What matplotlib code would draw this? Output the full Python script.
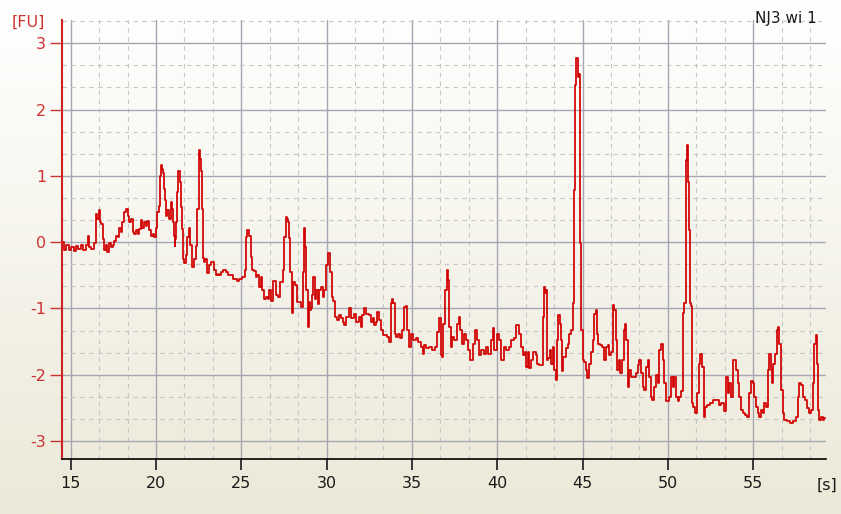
import numpy as np
import matplotlib.pyplot as plt
from matplotlib.ticker import MultipleLocator

plt.rcParams['axes.unicode_minus'] = False

# time [s] and signal [FU]
t_s = [
    14.49, 14.53, 14.67, 14.8, 14.95, 15.1, 15.25, 15.35, 15.5, 15.65, 15.8, 15.95,
    16.03, 16.12, 16.3, 16.45, 16.52, 16.6, 16.68, 16.76, 16.82, 16.92, 17.01, 17.1,
    17.2, 17.3, 17.4, 17.5, 17.6, 17.7, 17.79, 17.89, 17.98, 18.08, 18.18, 18.28,
    18.38, 18.48, 18.58, 18.68, 18.78, 18.87, 18.97, 19.06, 19.16, 19.25, 19.35, 19.45,
    19.55, 19.65, 19.75, 19.84, 19.94, 20.04, 20.12, 20.18, 20.24, 20.29, 20.36, 20.43,
    20.48, 20.53, 20.62, 20.72, 20.8, 20.92, 20.97, 21.01, 21.06, 21.11, 21.16, 21.21,
    21.28, 21.35, 21.42, 21.5, 21.55, 21.6, 21.7, 21.8, 21.89, 21.99, 22.05, 22.12,
    22.2, 22.3, 22.38, 22.46, 22.54, 22.6, 22.68, 22.72, 22.77, 22.85, 22.95, 23.07,
    23.15, 23.25, 23.36, 23.45, 23.56, 23.65, 23.75, 23.85, 24.04, 24.15, 24.3, 24.43,
    24.55, 24.7, 24.83, 24.95, 25.12, 25.26, 25.31, 25.41, 25.51, 25.61, 25.7, 25.8,
    25.9, 25.96, 26.1, 26.19, 26.29, 26.4, 26.49, 26.6, 26.68, 26.78, 26.94, 27.07,
    27.21, 27.37, 27.46, 27.56, 27.62, 27.7, 27.76, 27.84, 27.91, 27.99, 28.07, 28.19,
    28.3, 28.44, 28.54, 28.64, 28.73, 28.79, 28.85, 28.91, 28.99, 29.05, 29.12, 29.2,
    29.26, 29.36, 29.44, 29.52, 29.61, 29.71, 29.81, 29.91, 30.04, 30.14, 30.24, 30.34,
    30.43, 30.53, 30.69, 30.8, 30.88, 31.0, 31.08, 31.23, 31.37, 31.51, 31.66, 31.82,
    31.96, 32.05, 32.15, 32.25, 32.41, 32.54, 32.64, 32.74, 32.84, 32.93, 33.03, 33.13,
    33.23, 33.42, 33.62, 33.72, 33.78, 33.85, 33.95, 34.01, 34.11, 34.21, 34.34, 34.5,
    34.6, 34.69, 34.79, 34.89, 35.03, 35.14, 35.28, 35.44, 35.57, 35.67, 35.77, 35.9,
    36.06, 36.26, 36.39, 36.55, 36.65, 36.75, 36.8, 36.88, 37.0, 37.08, 37.17, 37.23,
    37.31, 37.43, 37.55, 37.68, 37.78, 37.88, 37.98, 38.11, 38.21, 38.35, 38.5, 38.64,
    38.76, 38.86, 38.99, 39.15, 39.29, 39.42, 39.54, 39.68, 39.77, 39.89, 40.03, 40.16,
    40.32, 40.46, 40.59, 40.75, 40.91, 41.04, 41.2, 41.3, 41.43, 41.57, 41.63, 41.73,
    41.83, 41.92, 42.02, 42.18, 42.31, 42.41, 42.51, 42.61, 42.7, 42.76, 42.84, 42.92,
    42.96, 43.04, 43.1, 43.19, 43.29, 43.39, 43.49, 43.54, 43.62, 43.68, 43.74, 43.82,
    43.94, 44.07, 44.17, 44.27, 44.37, 44.46, 44.52, 44.6, 44.68, 44.76, 44.81, 44.85,
    44.95, 45.05, 45.15, 45.24, 45.34, 45.44, 45.54, 45.64, 45.73, 45.81, 45.89, 45.97,
    46.08, 46.22, 46.32, 46.42, 46.51, 46.61, 46.71, 46.81, 46.91, 46.96, 47.06, 47.16,
    47.26, 47.36, 47.45, 47.53, 47.61, 47.69, 47.78, 47.92, 48.04, 48.18, 48.27, 48.37,
    48.47, 48.57, 48.66, 48.76, 48.86, 48.96, 49.05, 49.15, 49.25, 49.35, 49.45, 49.54,
    49.64, 49.74, 49.84, 49.99, 50.13, 50.23, 50.33, 50.42, 50.52, 50.62, 50.72, 50.81,
    50.91, 51.01, 51.07, 51.15, 51.2, 51.26, 51.3, 51.36, 51.42, 51.54, 51.65, 51.75,
    51.85, 51.95, 52.04, 52.14, 52.24, 52.38, 52.57, 52.77, 52.96, 53.06, 53.22, 53.35,
    53.49, 53.57, 53.65, 53.74, 53.84, 53.96, 54.04, 54.14, 54.23, 54.33, 54.47, 54.58,
    54.72, 54.82, 54.92, 55.01, 55.11, 55.21, 55.31, 55.41, 55.5, 55.6, 55.7, 55.8,
    55.89, 55.99, 56.09, 56.15, 56.23, 56.32, 56.42, 56.5, 56.58, 56.68, 56.77, 56.87,
    57.07, 57.26, 57.46, 57.55, 57.65, 57.75, 57.85, 57.95, 58.1, 58.24, 58.34, 58.43,
    58.53, 58.63, 58.71, 58.77, 58.84, 58.92, 59.02, 59.12, 59.22,
]
fu = [
    0.0, 0.0, -0.12, -0.05, -0.12, -0.08, -0.14, -0.06, -0.1, -0.04, -0.12, -0.05,
    0.1, -0.08, -0.1, -0.02, 0.42, 0.35, 0.48, 0.3, 0.28, 0.05, -0.12, -0.05,
    -0.15, -0.02, -0.08, -0.05, 0.02, 0.1, 0.08, 0.21, 0.15, 0.3, 0.45, 0.5,
    0.4, 0.3, 0.35, 0.16, 0.12, 0.18, 0.12, 0.2, 0.33, 0.22, 0.3, 0.25,
    0.32, 0.18, 0.1, 0.12, 0.08, 0.22, 0.45, 0.55, 1.0, 1.16, 1.1, 1.04,
    0.8, 0.63, 0.4, 0.48, 0.35, 0.6, 0.5, 0.3, 0.1, -0.06, 0.05, 0.3,
    0.75, 1.08, 0.9, 0.53, 0.2, -0.25, -0.32, -0.2, 0.08, 0.22, -0.05, -0.37,
    -0.37, -0.25, -0.06, 0.5, 1.39, 1.25, 1.08, 0.5, -0.24, -0.3, -0.25, -0.47,
    -0.35, -0.3, -0.3, -0.42, -0.5, -0.48, -0.5, -0.45, -0.42, -0.45, -0.5, -0.5,
    -0.56, -0.55, -0.59, -0.55, -0.53, -0.42, 0.08, 0.18, 0.1, -0.22, -0.42, -0.44,
    -0.53, -0.5, -0.67, -0.53, -0.72, -0.85, -0.82, -0.85, -0.72, -0.88, -0.59, -0.79,
    -0.83, -0.6, -0.42, 0.08, 0.38, 0.35, 0.3, 0.06, -0.45, -1.07, -0.6, -0.65,
    -0.9, -0.9, -0.98, -0.45, 0.21, -0.07, -0.72, -1.28, -0.9, -1.02, -1.0, -0.8,
    -0.53, -0.86, -0.72, -0.93, -0.72, -0.67, -0.83, -0.72, -0.35, -0.17, -0.45, -0.83,
    -0.88, -1.13, -1.18, -1.1, -1.15, -1.2, -1.25, -1.13, -1.0, -1.15, -1.08, -1.2,
    -1.13, -1.28, -1.1, -1.0, -1.08, -1.1, -1.2, -1.15, -1.25, -1.2, -1.05, -1.18,
    -1.33, -1.4, -1.43, -1.5, -0.92, -0.85, -0.92, -1.38, -1.43, -1.38, -1.45, -1.33,
    -0.98, -0.97, -1.33, -1.58, -1.38, -1.48, -1.45, -1.5, -1.58, -1.68, -1.55, -1.6,
    -1.58, -1.63, -1.58, -1.35, -1.15, -1.7, -1.73, -1.23, -0.72, -0.42, -0.57, -1.28,
    -1.58, -1.43, -1.48, -1.23, -1.13, -1.33, -1.53, -1.38, -1.48, -1.63, -1.78, -1.53,
    -1.33, -1.48, -1.7, -1.63, -1.68, -1.58, -1.68, -1.48, -1.3, -1.63, -1.38, -1.48,
    -1.78, -1.58, -1.63, -1.58, -1.48, -1.45, -1.25, -1.38, -1.58, -1.7, -1.65, -1.88,
    -1.65, -1.9, -1.78, -1.65, -1.7, -1.83, -1.85, -1.85, -1.13, -0.67, -0.77, -0.72,
    -1.78, -1.75, -1.63, -1.83, -1.58, -1.93, -2.08, -1.48, -1.1, -1.23, -1.48, -1.95,
    -1.73, -1.6, -1.53, -1.38, -1.33, -0.92, 0.78, 2.37, 2.77, 2.49, 2.54, -0.02,
    -1.33, -1.78, -1.8, -1.93, -2.05, -1.83, -1.65, -1.48, -1.08, -1.03, -1.38, -1.53,
    -1.55, -1.58, -1.78, -1.58, -1.55, -1.7, -1.65, -0.95, -1.03, -1.48, -1.93, -1.78,
    -1.98, -1.78, -1.33, -1.23, -1.48, -2.18, -1.93, -2.03, -2.03, -1.98, -1.85, -1.78,
    -1.98, -2.18, -2.23, -1.88, -1.78, -2.03, -2.33, -2.38, -2.18, -2.0, -2.13, -1.63,
    -1.53, -1.78, -2.13, -2.4, -2.33, -2.03, -2.18, -2.03, -2.33, -2.4, -2.33, -2.25,
    -1.07, -0.92, 1.24, 1.46, 0.91, 0.18, -0.92, -0.97, -2.43, -2.48, -2.58, -2.28,
    -1.83, -1.68, -1.88, -2.63, -2.48, -2.45, -2.43, -2.38, -2.38, -2.45, -2.43, -2.55,
    -2.03, -2.28, -2.13, -2.33, -1.78, -1.78, -1.93, -2.13, -2.33, -2.53, -2.58, -2.6,
    -2.63, -2.28, -2.1, -2.13, -2.33, -2.48, -2.58, -2.63, -2.53, -2.58, -2.43, -2.48,
    -1.93, -1.68, -1.93, -2.13, -1.83, -1.68, -1.33, -1.28, -1.53, -2.23, -2.58, -2.68,
    -2.7, -2.72, -2.7, -2.63, -2.33, -2.13, -2.15, -2.33, -2.38, -2.5, -2.58, -2.53,
    -2.13, -1.53, -1.4, -1.83, -2.53, -2.68, -2.63, -2.68, -2.65,
]

x_ticks = [15, 20, 25, 30, 35, 40, 45, 50, 55]
y_ticks = [-3, -2, -1, 0, 1, 2, 3]

W, H = 841, 514
fig = plt.figure(figsize=(W / 100, H / 100), dpi=100)

# background: white at the top fading to beige
bg = fig.add_axes([0, 0, 1, 1], zorder=0)
top = np.array([255, 255, 255]) / 255
bot = np.array([236, 233, 216]) / 255
k = np.linspace(0, 1, 256)[:, None]
grad = top * (1 - k) + bot * k
bg.imshow(grad[:, None, :], aspect='auto', extent=[0, 1, 0, 1])
bg.axis('off')

ax = fig.add_axes([62 / W, 1 - 459 / H, (826 - 62) / W, (459 - 20) / H], zorder=1)
ax.set_facecolor('none')
# the recorder draws sample-and-hold, so steps look closer than straight segments
ax.plot(t_s, fu, color='#d00000', lw=1.25, drawstyle='steps-mid')

ax.set_xlim(14.49, 59.27)
ax.set_ylim(-3.27, 3.35)
ax.set_xticks(x_ticks)
ax.set_yticks(y_ticks)
ax.xaxis.set_minor_locator(MultipleLocator(5 / 3))
ax.yaxis.set_minor_locator(MultipleLocator(1 / 3))
ax.grid(which='major', color='#a6a6b2', lw=1.0)
ax.grid(which='minor', color='#c6c6c6', lw=0.8, ls=(0, (4, 4)))
ax.set_axisbelow(True)

for s in ['top', 'right']:
    ax.spines[s].set_visible(False)
ax.spines['left'].set_color('#cc2222')
ax.spines['left'].set_linewidth(1.5)
ax.spines['bottom'].set_color('black')
ax.spines['bottom'].set_linewidth(1.2)

ax.tick_params(axis='y', which='major', colors='#cc3333', length=9, width=1,
               pad=2.5, labelsize=11.5)
ax.tick_params(axis='x', which='major', colors='#1a1a1a', length=8, width=1.2,
               pad=4, labelsize=11.5)
ax.tick_params(which='minor', length=0)

fig.text(12 / W, 1 - 22 / H, '[FU]', color='#cc3333', fontsize=11.5, va='center')
fig.text(817 / W, 1 - 485 / H, '[s]', color='#1a1a1a', fontsize=11.5, va='center')
fig.text(817 / W, 1 - 18 / H, 'NJ3 wi 1', color='#1a1a1a', fontsize=11,
         ha='right', va='center')

fig.savefig('out.png', dpi=100)
